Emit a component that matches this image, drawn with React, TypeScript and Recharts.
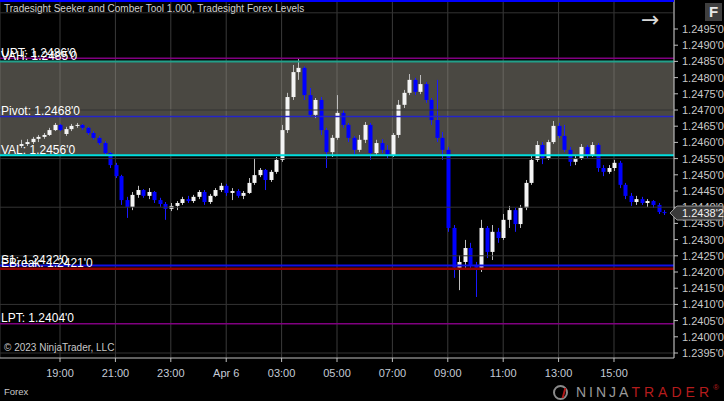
import React from 'react';
import { ComposedChart, Bar, XAxis, YAxis, CartesianGrid, ReferenceLine, ReferenceArea } from 'recharts';

// ---- data ----
const BAR_START_MIN = 36; // minutes after 17:00 (Apr 5)
const BAR_MINUTES = 12;

const opens = [1.24589,1.24595,1.24601,1.24611,1.24617,1.24623,1.24638,1.24654,1.24626,1.24641,1.24651,1.24654,1.24645,1.24629,1.24614,1.24598,1.24567,1.24530,1.24496,1.24422,1.24401,1.24438,1.24453,1.24435,1.24447,1.24422,1.24410,1.24395,1.24404,1.24413,1.24425,1.24419,1.24432,1.24447,1.24416,1.24435,1.24453,1.24466,1.24444,1.24450,1.24435,1.24444,1.24475,1.24499,1.24515,1.24484,1.24509,1.24546,1.24638,1.24740,1.24817,1.24830,1.24746,1.24685,1.24731,1.24638,1.24570,1.24614,1.24691,1.24654,1.24614,1.24577,1.24608,1.24654,1.24567,1.24598,1.24577,1.24561,1.24623,1.24716,1.24753,1.24793,1.24756,1.24780,1.24731,1.24669,1.24614,1.24577,1.24336,1.24213,1.24231,1.24274,1.24222,1.24213,1.24336,1.24262,1.24324,1.24305,1.24361,1.24391,1.24348,1.24398,1.24475,1.24546,1.24592,1.24552,1.24601,1.24651,1.24620,1.24577,1.24540,1.24552,1.24586,1.24561,1.24592,1.24521,1.24509,1.24521,1.24537,1.24469,1.24435,1.24416,1.24425,1.24413,1.24419,1.24407,1.24385];
const highs = [1.24608,1.24610,1.24617,1.24623,1.24629,1.24645,1.24660,1.24657,1.24648,1.24657,1.24660,1.24657,1.24648,1.24635,1.24620,1.24604,1.24570,1.24537,1.24500,1.24432,1.24447,1.24466,1.24456,1.24459,1.24450,1.24429,1.24416,1.24413,1.24419,1.24432,1.24435,1.24438,1.24453,1.24453,1.24441,1.24459,1.24475,1.24472,1.24459,1.24456,1.24450,1.24490,1.24552,1.24521,1.24518,1.24515,1.24555,1.24654,1.24753,1.24839,1.24857,1.24835,1.24768,1.24737,1.24740,1.24645,1.24623,1.24746,1.24700,1.24660,1.24620,1.24623,1.24663,1.24660,1.24608,1.24610,1.24592,1.24629,1.24731,1.24762,1.24811,1.24799,1.24808,1.24786,1.24737,1.24793,1.24632,1.24586,1.24345,1.24252,1.24299,1.24290,1.24231,1.24361,1.24342,1.24345,1.24336,1.24379,1.24404,1.24398,1.24407,1.24484,1.24561,1.24604,1.24601,1.24608,1.24666,1.24660,1.24654,1.24586,1.24561,1.24595,1.24592,1.24601,1.24598,1.24530,1.24530,1.24546,1.24543,1.24475,1.24444,1.24435,1.24432,1.24425,1.24422,1.24413,1.24391];
const lows = [1.24583,1.24589,1.24595,1.24601,1.24611,1.24620,1.24635,1.24635,1.24620,1.24635,1.24645,1.24638,1.24623,1.24608,1.24592,1.24561,1.24521,1.24490,1.24407,1.24367,1.24391,1.24429,1.24429,1.24425,1.24413,1.24401,1.24361,1.24388,1.24391,1.24407,1.24413,1.24413,1.24425,1.24407,1.24410,1.24432,1.24447,1.24435,1.24422,1.24429,1.24425,1.24441,1.24469,1.24493,1.24453,1.24478,1.24503,1.24540,1.24629,1.24731,1.24793,1.24731,1.24679,1.24675,1.24623,1.24521,1.24555,1.24608,1.24645,1.24601,1.24561,1.24570,1.24598,1.24546,1.24558,1.24567,1.24552,1.24555,1.24614,1.24706,1.24746,1.24746,1.24749,1.24722,1.24654,1.24601,1.24546,1.24324,1.24182,1.24144,1.24213,1.24206,1.24123,1.24200,1.24243,1.24237,1.24290,1.24299,1.24336,1.24324,1.24336,1.24391,1.24469,1.24540,1.24533,1.24546,1.24595,1.24614,1.24570,1.24527,1.24530,1.24546,1.24552,1.24555,1.24509,1.24496,1.24503,1.24512,1.24459,1.24425,1.24404,1.24407,1.24407,1.24401,1.24398,1.24379,1.24376];
const closes = [1.24595,1.24601,1.24611,1.24617,1.24623,1.24638,1.24654,1.24638,1.24641,1.24651,1.24654,1.24645,1.24629,1.24614,1.24598,1.24567,1.24530,1.24496,1.24422,1.24401,1.24438,1.24453,1.24435,1.24447,1.24422,1.24410,1.24395,1.24404,1.24413,1.24425,1.24419,1.24432,1.24447,1.24416,1.24435,1.24453,1.24466,1.24444,1.24450,1.24435,1.24444,1.24475,1.24499,1.24515,1.24484,1.24509,1.24546,1.24638,1.24740,1.24817,1.24830,1.24746,1.24685,1.24731,1.24638,1.24570,1.24614,1.24691,1.24654,1.24614,1.24577,1.24608,1.24654,1.24567,1.24598,1.24577,1.24561,1.24623,1.24716,1.24753,1.24793,1.24756,1.24780,1.24731,1.24669,1.24614,1.24577,1.24336,1.24213,1.24231,1.24274,1.24222,1.24213,1.24336,1.24262,1.24324,1.24305,1.24361,1.24391,1.24348,1.24398,1.24475,1.24546,1.24592,1.24552,1.24601,1.24651,1.24620,1.24577,1.24540,1.24552,1.24586,1.24561,1.24592,1.24521,1.24509,1.24521,1.24537,1.24469,1.24435,1.24416,1.24425,1.24413,1.24419,1.24407,1.24385,1.24382];

const xTickTimes = [120, 240, 360, 480, 600, 720, 840, 960, 1080, 1200, 1320];
const xTickLabels = ['19:00', '21:00', '23:00', 'Apr 6', '03:00', '05:00', '07:00', '09:00', '11:00', '13:00', '15:00'];
const yTicks = [1.2395,1.2400,1.2405,1.2410,1.2415,1.2420,1.2425,1.2430,1.2435,1.2440,1.2445,1.2450,1.2455,1.2460,1.2465,1.2470,1.2475,1.2480,1.2485,1.2490,1.2495];
const gridPrices = [1.2395, 1.2410, 1.2425, 1.2440, 1.2455, 1.2470, 1.2485, 1.2500];

const levelNames = ['UPT', 'VAH', 'Pivot', 'VAL', 'S1', 'EBreak', 'LPT'];
const levelValues = [1.2486, 1.2485, 1.2468, 1.2456, 1.2422, 1.2421, 1.2404];
const lastPrice = 1.24382;

const levelStyle: Record<string, { stroke: string; width: number }> = {
  UPT: { stroke: '#800080', width: 1.5 },
  VAH: { stroke: '#22a08a', width: 2 },
  Pivot: { stroke: '#2424c8', width: 1.5 },
  VAL: { stroke: '#00dede', width: 2 },
  S1: { stroke: '#1010e6', width: 2 },
  EBreak: { stroke: '#900000', width: 2.5 },
  LPT: { stroke: '#800080', width: 1.5 },
};

const candles = opens.map((o, i) => ({
  t: BAR_START_MIN + i * BAR_MINUTES,
  open: o,
  high: highs[i],
  low: lows[i],
  close: closes[i],
  range: [lows[i], highs[i]],
}));

const FONT = '"Liberation Sans", Arial, sans-serif';

const fmtPrice = (v: number, last = '0') => v.toFixed(4) + "'" + last;

const Candle = (props: any) => {
  let { x, y, width, height, payload } = props;
  if (x == null || y == null || !payload) return null;
  if (height < 0) { y = y + height; height = -height; }
  const { open, close, high, low } = payload;
  const k = high - low > 0 ? height / (high - low) : 0;
  const yO = y + (high - open) * k;
  const yC = y + (high - close) * k;
  const up = close >= open;
  const cx = Math.round(x + width / 2) + 0.5;
  const top = Math.min(yO, yC);
  const h = Math.max(1, Math.abs(yC - yO));
  return (
    <g>
      <line x1={cx} x2={cx} y1={y} y2={y + height} stroke={up ? '#bdbdbd' : '#1a1aff'} strokeWidth={1} />
      <rect x={cx - 2} y={top} width={4} height={h} fill={up ? '#f4f4f4' : '#0000ff'} />
    </g>
  );
};

const LevelLabel = (props: any) => {
  const { viewBox, text } = props;
  if (!viewBox) return null;
  return (
    <text x={viewBox.x + 1} y={viewBox.y - 1.5} fill="#ffffff" fontSize={12} fontFamily={FONT}>
      {text}
    </text>
  );
};

// y-axis tick that leaves room for the last-price marker (the marker covers that label)
const YTick = (props: any) => {
  const { x, y, payload } = props;
  return (
    <text x={x} y={y} dy={4} fill="#c8c8c8" fontSize={11} fontFamily={FONT} textAnchor="start">
      {fmtPrice(payload.value)}
    </text>
  );
};

const PriceMarker = (props: any) => {
  const { viewBox, text } = props;
  if (!viewBox) return null;
  const x0 = viewBox.x + viewBox.width;
  const y0 = viewBox.y;
  return (
    <g>
      <polygon
        points={`${x0 - 4},${y0} ${x0 + 3},${y0 - 7} ${x0 + 49},${y0 - 7} ${x0 + 49},${y0 + 7} ${x0 + 3},${y0 + 7}`}
        fill="#3a3a3a"
        stroke="#9a9a9a"
        strokeWidth={1}
      />
      <text x={x0 + 8} y={y0 + 4} fill="#f0f0f0" fontSize={11} fontFamily={FONT}>{text}</text>
    </g>
  );
};

export default function App() {
  return (
    <div style={{ position: 'absolute', left: 0, top: 0, width: 724, height: 401, background: '#000', overflow: 'hidden', fontFamily: FONT }}>
      <ComposedChart width={724} height={401} data={candles} margin={{ top: 0, right: 0, bottom: 0, left: 0 }} style={{ background: '#000' }}>
        <CartesianGrid horizontal={false} vertical stroke="#3a3a3a" strokeWidth={1} />
        {gridPrices.map((p) => (
          <ReferenceLine key={'g' + p} y={p} stroke="#333333" strokeWidth={1} ifOverflow="hidden" />
        ))}
        <ReferenceArea y1={levelValues[3]} y2={levelValues[1]} fill="#948f84" fillOpacity={0.5} stroke="none" ifOverflow="hidden" />
        {levelNames.map((n, i) => (
          <ReferenceLine
            key={n}
            y={levelValues[i]}
            stroke={levelStyle[n].stroke}
            strokeWidth={levelStyle[n].width}
            label={<LevelLabel text={`${n}: ${fmtPrice(levelValues[i])}`} />}
          />
        ))}
        <XAxis
          type="number"
          dataKey="t"
          domain={[-10, 1450]}
          allowDataOverflow
          ticks={xTickTimes}
          interval={0}
          tickFormatter={(v: number) => xTickLabels[xTickTimes.indexOf(v)] ?? ''}
          height={43}
          tickSize={4}
          tickMargin={7}
          stroke="#bfbfbf"
          tick={{ fill: '#c4cbd6', fontSize: 11, fontFamily: FONT }}
          tickLine={{ stroke: '#bfbfbf' }}
          axisLine={{ stroke: '#bfbfbf' }}
        />
        <YAxis
          orientation="right"
          domain={[1.239346, 1.250395]}
          allowDataOverflow
          ticks={yTicks}
          interval={0}
          width={50}
          tickSize={4}
          tickMargin={4}
          tick={<YTick />}
          tickLine={{ stroke: '#bfbfbf' }}
          axisLine={{ stroke: '#bfbfbf' }}
        />
        <Bar dataKey="range" barSize={4} shape={<Candle />} isAnimationActive={false} />
        <ReferenceLine
          y={lastPrice}
          stroke="none"
          zIndex={2000}
          label={<PriceMarker text={fmtPrice(lastPrice, '2')} />}
        />
      </ComposedChart>

      <div style={{ position: 'absolute', left: 0, top: 0, width: 674, height: 2, background: '#0000ff' }} />
      <div style={{ position: 'absolute', left: 4, top: 3, fontSize: 10, color: '#cfcfcf', whiteSpace: 'nowrap' }}>
        Tradesight Seeker and Comber Tool 1.000, Tradesight Forex Levels
      </div>
      <div style={{ position: 'absolute', left: 641, top: 9, fontSize: 22, color: '#d8d8d8', lineHeight: '22px', fontFamily: '"DejaVu Sans", sans-serif' }}>→</div>
      <div style={{ position: 'absolute', left: 705, top: 3, width: 17, height: 18, background: '#3f3f3f', color: '#e8e8e8', fontSize: 15, fontWeight: 'bold', textAlign: 'center', lineHeight: '18px' }}>F</div>
      <div style={{ position: 'absolute', left: 4, top: 342, fontSize: 10, color: '#c8c8c8', whiteSpace: 'nowrap' }}>© 2023 NinjaTrader, LLC</div>
      <div style={{ position: 'absolute', left: 4, top: 386, fontSize: 9.5, color: '#c8c8c8' }}>Forex</div>
      <div style={{ position: 'absolute', left: 553, top: 383, height: 18, display: 'flex', alignItems: 'center', whiteSpace: 'nowrap' }}>
        <div style={{ width: 15, height: 15, borderRadius: 8, border: '2px solid #8a8a8a', boxSizing: 'border-box', position: 'relative', marginRight: 8 }}>
          <div style={{ position: 'absolute', left: 4, top: 1, width: 4, height: 10, borderRight: '2px solid #b01818', transform: 'skewX(-15deg)' }} />
        </div>
        <span style={{ fontSize: 14, color: '#9a9a9a', letterSpacing: 3 }}>NINJA</span>
        <span style={{ fontSize: 14, color: '#b41c1c', letterSpacing: 4 }}>TRADER</span>
        <span style={{ fontSize: 8, color: '#b41c1c', alignSelf: 'flex-start' }}>®</span>
      </div>
    </div>
  );
}
